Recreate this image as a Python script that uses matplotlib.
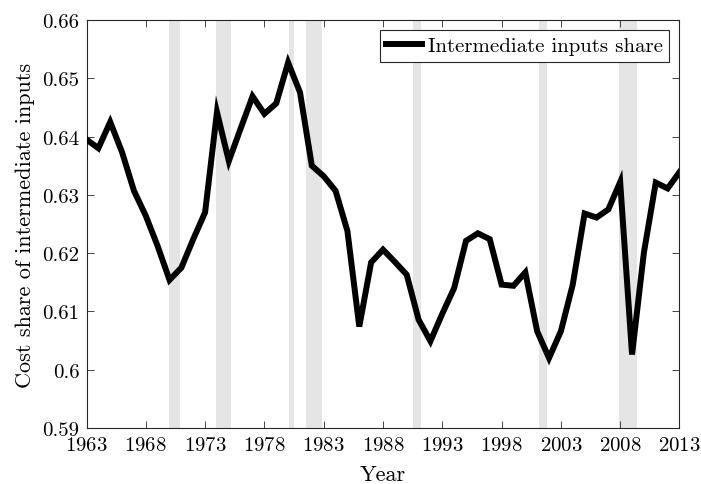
import matplotlib
matplotlib.use('Agg')
import matplotlib.pyplot as plt
from matplotlib.ticker import FuncFormatter

matplotlib.rcParams['font.family'] = 'cmr10'
matplotlib.rcParams['axes.formatter.use_mathtext'] = True
matplotlib.rcParams['mathtext.fontset'] = 'cm'

years = list(range(1963, 2014))
share = [0.6395, 0.6380, 0.6425, 0.6373, 0.6307, 0.6264, 0.6212, 0.6154, 0.6175, 0.6224,
         0.6270, 0.6442, 0.6358, 0.6414, 0.6469, 0.6439, 0.6457, 0.6527, 0.6476, 0.6350,
         0.6332, 0.6307, 0.6238, 0.6074, 0.6184, 0.6206, 0.6185, 0.6163, 0.6086, 0.6049,
         0.6096, 0.6140, 0.6221, 0.6234, 0.6224, 0.6146, 0.6144, 0.6167, 0.6066, 0.6020,
         0.6066, 0.6146, 0.6268, 0.6261, 0.6275, 0.6322, 0.6026, 0.6201, 0.6321, 0.6311,
         0.6339]

# NBER recessions (start, end)
rec_start = [1969.95, 1973.88, 1980.05, 1981.55, 1990.55, 2001.18, 2007.92]
rec_end = [1970.88, 1975.18, 1980.52, 1982.88, 1991.18, 2001.80, 2009.40]

xticks = list(range(1963, 2014, 5))
yticks = [0.59, 0.60, 0.61, 0.62, 0.63, 0.64, 0.65, 0.66]

fig = plt.figure(figsize=(7.01, 4.85), dpi=100)
ax = fig.add_axes([0.1234, 0.1155, 0.8459, 0.8412])

for s, e in zip(rec_start, rec_end):
    ax.axvspan(s, e, color='#e5e5e5', lw=0, zorder=0)

ax.plot(years, share, color='black', lw=4.3, label='Intermediate inputs share',
        solid_joinstyle='miter', zorder=3)

ax.set_xlim(1963, 2013)
ax.set_ylim(0.59, 0.66)
ax.set_xticks(xticks)
ax.set_yticks(yticks)
ax.yaxis.set_major_formatter(FuncFormatter(lambda v, p: '{:g}'.format(round(v, 2))))
ax.tick_params(direction='in', length=5, width=0.6, top=True, right=True,
               labelsize=15, colors='#262626', labelcolor='black')
ax.tick_params(axis='x', pad=6)
ax.tick_params(axis='y', pad=5)
for sp in ax.spines.values():
    sp.set_linewidth(0.8)
    sp.set_color('#262626')

ax.set_xlabel('Year', fontsize=16, labelpad=7)
ax.set_ylabel('Cost share of intermediate inputs', fontsize=16, labelpad=5)

leg = ax.legend(loc='upper right', fontsize=15, handlelength=1.7, borderpad=0.3,
                handletextpad=0.3, borderaxespad=0.5, fancybox=False, framealpha=1)
leg.get_frame().set_edgecolor('#262626')
leg.get_frame().set_linewidth(0.8)

plt.savefig('out.png', dpi=100)
